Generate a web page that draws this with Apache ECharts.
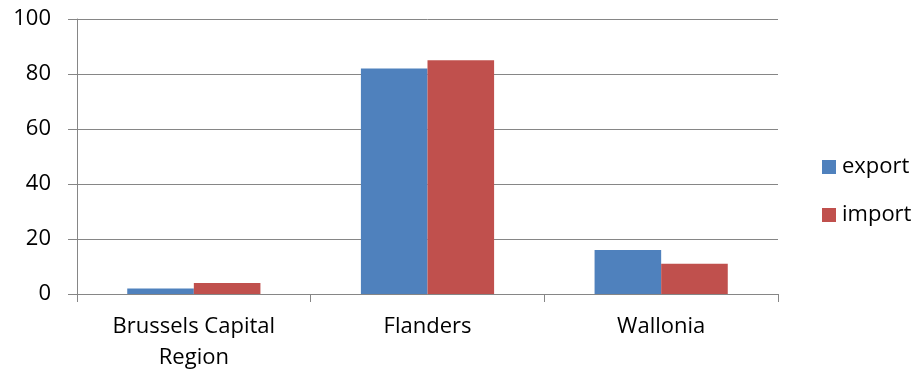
<!DOCTYPE html>
<html>
<head>
<meta charset="utf-8">
<script src="https://cdn.jsdelivr.net/npm/echarts@6/dist/echarts.min.js"></script>
<style>
  html, body { margin: 0; padding: 0; background: #fff; }
  #chart { width: 919px; height: 376px; }
</style>
</head>
<body>
<div id="chart"></div>
<script>
// Regional shares of Belgian trade (%)
const regions = ['Brussels Capital\nRegion', 'Flanders', 'Wallonia'];
const exportValues = [2, 82, 16];
const importValues = [4, 85, 11];
const yTicks = { min: 0, max: 100, step: 20 };

const font = '"Open Sans", "Noto Sans", sans-serif';
const gridGray = '#868686';

const chart = echarts.init(document.getElementById('chart'), null, { renderer: 'canvas' });
chart.setOption({
  animation: false,
  backgroundColor: '#fff',
  textStyle: { fontFamily: font, color: '#000' },
  grid: { left: 77, right: 141, top: 19, bottom: 82, containLabel: false },
  legend: {
    orient: 'vertical',
    left: 822,
    top: 156,
    padding: 0,
    itemWidth: 14,
    itemHeight: 14,
    itemGap: 26,
    icon: 'rect',
    textStyle: { fontFamily: font, fontSize: 22, lineHeight: 22, color: '#000', padding: [0, 0, 0, 1] },
    data: ['export', 'import']
  },
  xAxis: {
    type: 'category',
    data: regions,
    axisLine: { lineStyle: { color: gridGray, width: 1 } },
    axisTick: { show: true, alignWithLabel: false, length: 8, lineStyle: { color: gridGray } },
    axisLabel: { fontFamily: font, fontSize: 22, lineHeight: 31, color: '#000', margin: 17, interval: 0 }
  },
  yAxis: {
    type: 'value',
    min: yTicks.min,
    max: yTicks.max,
    interval: yTicks.step,
    axisLine: { show: true, lineStyle: { color: gridGray, width: 1 } },
    axisTick: { show: true, length: 9, lineStyle: { color: gridGray } },
    splitLine: { show: true, lineStyle: { color: gridGray, width: 1 } },
    axisLabel: { fontFamily: font, fontSize: 22, color: '#000', margin: 26 }
  },
  series: [
    {
      name: 'export',
      type: 'bar',
      data: exportValues,
      barGap: '0%',
      barCategoryGap: '43%',
      itemStyle: { color: '#4F81BD' }
    },
    {
      name: 'import',
      type: 'bar',
      data: importValues,
      barGap: '0%',
      barCategoryGap: '43%',
      itemStyle: { color: '#C0504D' }
    }
  ]
});
</script>
</body>
</html>
